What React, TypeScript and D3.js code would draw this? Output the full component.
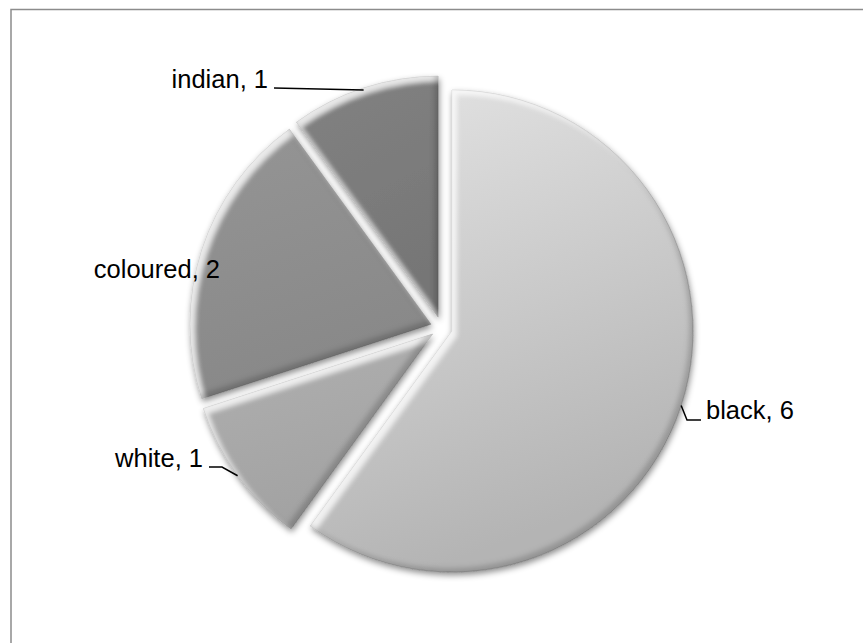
import React from "react";
import * as d3 from "d3";

const categories = ["black", "white", "coloured", "indian"];
const values = [6, 1, 2, 1];
const fills: [string, string][] = [
  ["#e4e4e4", "#b4b4b4"],
  ["#b0b0b0", "#a2a2a2"],
  ["#959595", "#888888"],
  ["#828282", "#767676"],
];

const W = 863;
const H = 643;
const CX = 441.5;
const CY = 327.6;
const R = 241;
const EXPLODE = 11;

export default function App() {
  const pie = d3.pie<number>().sort(null).startAngle(0).endAngle(2 * Math.PI);
  const arcs = pie(values);
  const arcGen = d3.arc<d3.PieArcDatum<number>>().innerRadius(0).outerRadius(R);

  const info = arcs.map((a) => {
    const mid = (a.startAngle + a.endAngle) / 2;
    const ox = EXPLODE * Math.sin(mid);
    const oy = -EXPLODE * Math.cos(mid);
    const ax = CX + ox;
    const ay = CY + oy;
    const px = ax + R * Math.sin(mid);
    const py = ay - R * Math.cos(mid);
    return { a, mid, ax, ay, px, py };
  });

  const font = "'Liberation Sans', Arial, sans-serif";
  const fs = 25.5;

  const [blk, wht, col, ind] = info;

  return (
    <svg
      width={W}
      height={H}
      style={{ position: "absolute", left: 0, top: 0 }}
      xmlns="http://www.w3.org/2000/svg"
    >
      <defs>
        {fills.map((f, i) => (
          <linearGradient key={i} id={`g${i}`} x1="0" y1="0" x2="0.3" y2="1">
            <stop offset="0" stopColor={f[0]} />
            <stop offset="1" stopColor={f[1]} />
          </linearGradient>
        ))}
        <filter id="bev" x="-20%" y="-20%" width="140%" height="140%">
          <feGaussianBlur in="SourceAlpha" stdDeviation="3" result="b1" />
          <feOffset in="b1" dx="1" dy="3" result="ob" />
          <feFlood floodColor="#000" floodOpacity="0.45" />
          <feComposite in2="ob" operator="in" result="shadow" />
          <feOffset in="SourceAlpha" dx="5" dy="5" result="o1" />
          <feGaussianBlur in="o1" stdDeviation="2.5" result="o1b" />
          <feComposite in="SourceAlpha" in2="o1b" operator="out" result="hl" />
          <feFlood floodColor="#fff" floodOpacity="0.75" />
          <feComposite in2="hl" operator="in" result="hlc" />
          <feOffset in="SourceAlpha" dx="-4" dy="-4" result="o2" />
          <feGaussianBlur in="o2" stdDeviation="2.5" result="o2b" />
          <feComposite in="SourceAlpha" in2="o2b" operator="out" result="dk" />
          <feFlood floodColor="#000" floodOpacity="0.35" />
          <feComposite in2="dk" operator="in" result="dkc" />
          <feMerge>
            <feMergeNode in="shadow" />
            <feMergeNode in="SourceGraphic" />
            <feMergeNode in="hlc" />
            <feMergeNode in="dkc" />
          </feMerge>
        </filter>
      </defs>
      <rect x={0} y={0} width={W} height={H} fill="#fff" />
      <rect x={11} y={9.5} width={1000} height={1000} fill="none" stroke="#8c8c8c" strokeWidth={1.5} />

      {info.map((s, i) => (
        <path
          key={categories[i]}
          d={arcGen(s.a) || ""}
          transform={`translate(${s.ax},${s.ay})`}
          fill={`url(#g${i})`}
          stroke="#5a5a5a"
          strokeWidth={0.6}
          strokeOpacity={0.5}
          filter="url(#bev)"
        />
      ))}

      <g fontFamily={font} fontSize={fs} fill="#000">
        <text x={268} y={88} textAnchor="end">{`${categories[3]}, ${values[3]}`}</text>
        <text x={706} y={419}>{`${categories[0]}, ${values[0]}`}</text>
        <text x={203} y={467} textAnchor="end">{`${categories[1]}, ${values[1]}`}</text>
        <text x={220} y={278} textAnchor="end">{`${categories[2]}, ${values[2]}`}</text>
      </g>
      <g fill="none" stroke="#000" strokeWidth={1.5}>
        <polyline points={`274,88 ${ind.px},${ind.py + 2}`} />
        <polyline points={`${blk.px},${blk.py} 687,420 701,420`} />
        <polyline points={`209,467 222,467 ${wht.px},${wht.py}`} />
      </g>
    </svg>
  );
}
